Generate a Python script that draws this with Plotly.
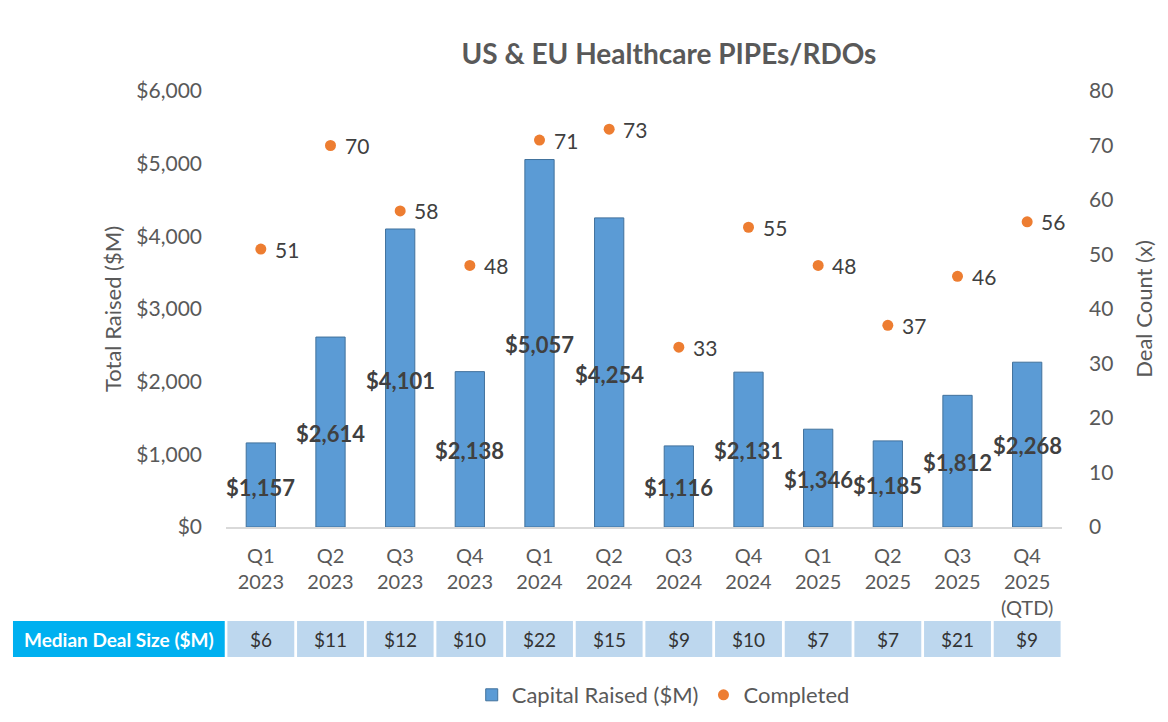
import plotly.graph_objects as go

# data
quarters = ['Q1<br>2023', 'Q2<br>2023', 'Q3<br>2023', 'Q4<br>2023',
            'Q1<br>2024', 'Q2<br>2024', 'Q3<br>2024', 'Q4<br>2024',
            'Q1<br>2025', 'Q2<br>2025', 'Q3<br>2025', 'Q4<br>2025<br>(QTD)']
capital_raised = [1157, 2614, 4101, 2138, 5057, 4254, 1116, 2131, 1346, 1185, 1812, 2268]
deals_completed = [51, 70, 58, 48, 71, 73, 33, 55, 48, 37, 46, 56]
median_deal_size = [6, 11, 12, 10, 22, 15, 9, 10, 7, 7, 21, 9]

# where the bar value labels sit (they were moved by hand in the original)
bar_label_y = [550, 1280, 2023, 1046, 2518, 2105, 537, 1046, 647, 578, 881, 1115]

FONT = 'Lato'
GREY = '#595959'
DARK = '#404040'
BLUE = '#5B9BD5'
ORANGE = '#ED7D31'

fig = go.Figure()

fig.add_trace(go.Bar(
    name='Capital Raised ($M)', x=quarters, y=capital_raised, width=0.42,
    marker=dict(color=BLUE, line=dict(color='#41719C', width=1)),
))

fig.add_trace(go.Scatter(
    name='Completed', x=quarters, y=deals_completed, yaxis='y2', mode='markers',
    marker=dict(color=ORANGE, size=11),
))

# value labels on the bars
for q, v, ly in zip(quarters, capital_raised, bar_label_y):
    fig.add_annotation(x=q, y=ly, xref='x', yref='y', text='<b>${:,}</b>'.format(v),
                       showarrow=False, font=dict(size=22, color=DARK, family=FONT))

# labels next to the dots
for q, n in zip(quarters, deals_completed):
    fig.add_annotation(x=q, y=n, xref='x', yref='y2', text=str(n), showarrow=False,
                       xanchor='left', xshift=12, font=dict(size=21, color=DARK, family=FONT))

# median deal size table under the axis
tbl_top, tbl_bot = -0.2156, -0.2982
fig.add_shape(type='rect', xref='paper', yref='paper', x0=-0.2548, x1=-0.0015,
              y0=tbl_bot, y1=tbl_top, fillcolor='#00B0F0', line_width=0)
fig.add_annotation(xref='paper', yref='paper', x=-0.128, y=(tbl_top + tbl_bot) / 2,
                   xanchor='center', yanchor='middle',
                   text='<b>Median Deal Size ($M)</b>', showarrow=False,
                   font=dict(size=19, color='white', family=FONT))
for i, (q, m) in enumerate(zip(quarters, median_deal_size)):
    fig.add_shape(type='rect', xref='x', yref='paper', x0=i - 0.48, x1=i + 0.48,
                  y0=tbl_bot, y1=tbl_top, fillcolor='#BDD7EE', line_width=0)
    fig.add_annotation(xref='x', yref='paper', x=q, y=(tbl_top + tbl_bot) / 2,
                       yanchor='middle', text='$' + str(m), showarrow=False,
                       font=dict(size=19, color='#333333', family=FONT))

fig.update_layout(
    width=1160, height=714,
    margin=dict(l=218, r=106, t=83, b=195, autoexpand=False),
    paper_bgcolor='white', plot_bgcolor='white',
    font=dict(family=FONT, color=GREY),
    title=dict(text='<b>US & EU Healthcare PIPEs/RDOs</b>', x=0.5698, xanchor='center',
               y=0.9356, yanchor='middle', font=dict(size=28, color=GREY, family=FONT)),
    xaxis=dict(range=[-0.5, 11.5], showline=True, linecolor='#D9D9D9', linewidth=2,
               showgrid=False, tickfont=dict(size=20, color=GREY), ticks='outside',
               ticklen=10, tickcolor='rgba(0,0,0,0)'),
    yaxis=dict(range=[0, 6000], dtick=1000, tickprefix='$', tickformat=',d',
               showgrid=False, zeroline=False, tickfont=dict(size=21, color=GREY),
               ticklabelstandoff=23,
               title=dict(text='Total Raised ($M)', font=dict(size=22, color=GREY), standoff=8)),
    yaxis2=dict(range=[0, 80], dtick=10, overlaying='y', side='right', showgrid=False,
                zeroline=False, tickfont=dict(size=21, color=GREY), ticklabelstandoff=26,
                title=dict(text='Deal Count (x)', font=dict(size=22, color=GREY), standoff=24)),
    legend=dict(orientation='h', x=0.523, xanchor='center', yref='container', y=0.0378,
                yanchor='middle', font=dict(size=22, color=GREY)),
    showlegend=True,
)

fig.write_html('out.html')
